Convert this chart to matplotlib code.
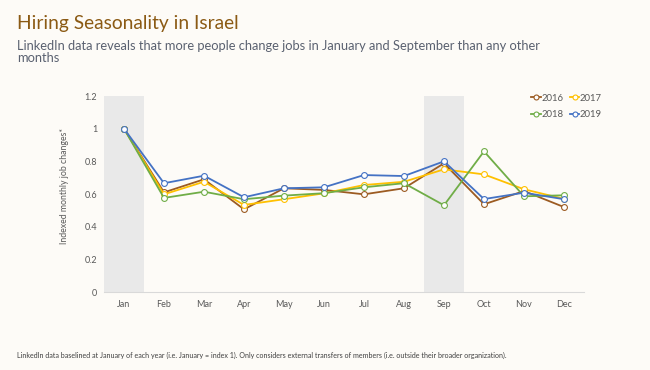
import matplotlib
matplotlib.use("Agg")
import matplotlib.pyplot as plt

months = ["Jan", "Feb", "Mar", "Apr", "May", "Jun", "Jul", "Aug", "Sep", "Oct", "Nov", "Dec"]
y2016 = [1.0, 0.61, 0.69, 0.506, 0.635, 0.625, 0.598, 0.635, 0.788, 0.537, 0.618, 0.52]
y2017 = [1.0, 0.598, 0.675, 0.533, 0.568, 0.604, 0.655, 0.675, 0.751, 0.72, 0.629, 0.57]
y2018 = [1.0, 0.576, 0.614, 0.568, 0.59, 0.605, 0.641, 0.666, 0.531, 0.861, 0.586, 0.592]
y2019 = [1.0, 0.666, 0.712, 0.58, 0.635, 0.641, 0.716, 0.71, 0.80, 0.569, 0.608, 0.568]
series = [("2016", y2016, "#9C5B22"), ("2017", y2017, "#FFC000"),
          ("2018", y2018, "#70AD47"), ("2019", y2019, "#4472C4")]
highlight = ["Jan", "Sep"]
yticks = [0, 0.2, 0.4, 0.6, 0.8, 1, 1.2]
yticklabels = ["0", "0.2", "0.4", "0.6", "0.8", "1", "1.2"]

plt.rcParams['font.family'] = ['Lato', 'DejaVu Sans']
bg = "#FDFBF7"
fig = plt.figure(figsize=(6.5, 3.7), dpi=100, facecolor=bg)
ax = fig.add_axes([104/650, 1-292/370, 480/650, (292-96)/370])
ax.set_facecolor(bg)

x = list(range(len(months)))
for m in highlight:
    i = months.index(m)
    ax.axvspan(i - 0.5, i + 0.5, color="#E9E9E9", zorder=0, lw=0)

handles = {}
for name, vals, col in series:
    h, = ax.plot(x, vals, color=col, lw=1.3, marker="o", ms=4.2,
                 mfc="white", mec=col, mew=0.8, label=name, zorder=3)
    handles[name] = h

ax.set_xlim(-0.5, len(months) - 0.5)
ax.set_ylim(0, 1.2)
ax.set_xticks(x)
ax.set_xticklabels(months)
ax.set_yticks(yticks)
ax.set_yticklabels(yticklabels)
ax.tick_params(axis="both", length=0, labelsize=6.5, colors="#595959")
ax.tick_params(axis="x", pad=6)
ax.tick_params(axis="y", pad=5)
for s in ["top", "right", "left"]:
    ax.spines[s].set_visible(False)
ax.spines["bottom"].set_color("#D9D9D9")
ax.spines["bottom"].set_linewidth(0.8)
ax.set_ylabel("Indexed monthly job changes*", fontsize=6.3, color="#595959")
ax.yaxis.set_label_coords(-0.073, 0.54)

order = ["2016", "2018", "2017", "2019"]
leg = ax.legend([handles[n] for n in order], order, ncol=2, loc="upper right",
                bbox_to_anchor=(1.055, 1.055), frameon=False,
                fontsize=6.8, handlelength=1.0, handletextpad=0.05, columnspacing=0.7,
                labelspacing=0.8, markerscale=0.85)
for t in leg.get_texts():
    t.set_color("#595959")

fig.text(17/650, 1-24/370, "Hiring Seasonality in Israel", fontsize=13.8, color="#8B5A14",
         va="center", ha="left")
fig.text(17/650, 1-52/370,
         "LinkedIn data reveals that more people change jobs in January and September than any other\nmonths",
         fontsize=9.3, color="#5A6170", va="center", ha="left", linespacing=1.0)
fig.text(17/650, 1-355/370,
         "LinkedIn data baselined at January of each year (i.e. January = index 1). Only considers external transfers of members (i.e. outside their broader organization).",
         fontsize=5.1, color="#404040", va="center", ha="left")

fig.savefig("out.png", dpi=100, facecolor=bg)
